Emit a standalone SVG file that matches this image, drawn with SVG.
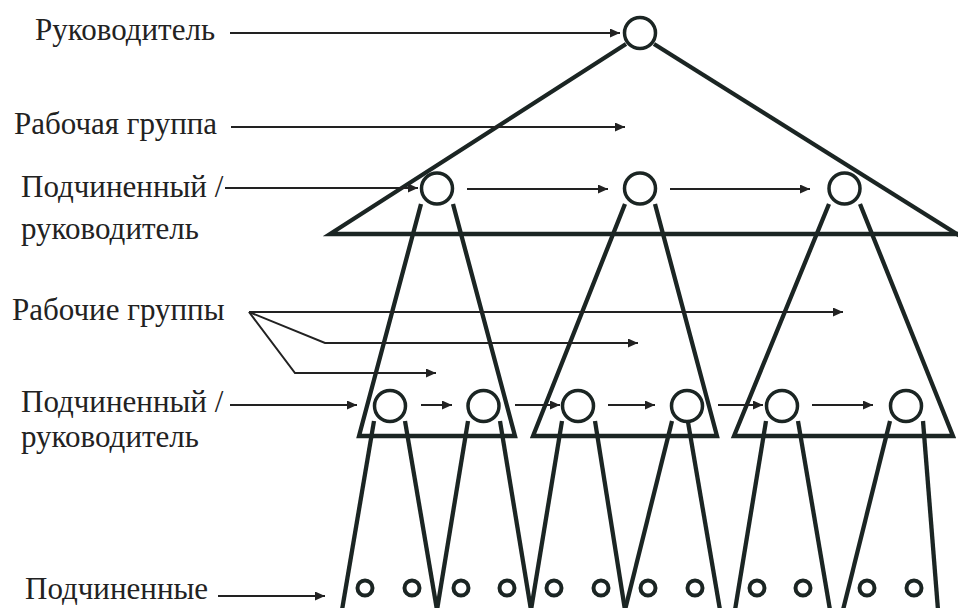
<svg xmlns="http://www.w3.org/2000/svg" width="958" height="608" viewBox="0 0 958 608">
<defs>
<style>
.thick{fill:none;stroke:#1b2523;stroke-width:4.3;stroke-linejoin:miter;stroke-linecap:butt;}
.node{fill:#fff;stroke:#1b2523;stroke-width:3.5;}
.small{fill:#fff;stroke:#1b2523;stroke-width:4;}
.arr{fill:none;stroke:#222;stroke-width:2;marker-end:url(#ah);}
</style>
<marker id="ah" markerUnits="userSpaceOnUse" markerWidth="11" markerHeight="9" refX="10" refY="4.5" orient="auto">
<path d="M0,0 L10,4.5 L0,9 z" fill="#222"/>
</marker>
</defs>
<rect width="958" height="608" fill="#fff"/>

<g id="labels" font-family="Liberation Serif" font-size="31" fill="#222">
<text x="35" y="40">Руководитель</text>
<text x="14" y="134">Рабочая группа</text>
<text x="21" y="197">Подчиненный /</text>
<text x="21" y="239">руководитель</text>
<text x="12" y="320">Рабочие группы</text>
<text x="21" y="412">Подчиненный /</text>
<text x="21" y="447">руководитель</text>
<text x="25" y="599">Подчиненные</text>
</g>

<g id="connectors">
<path class="thick" d="M626,44 L330,234 L960,234"/>
<path class="thick" d="M654,44 L960,236"/>
<path class="thick" d="M421,204 L359,436 L515,436 L453,204"/>
<path class="thick" d="M625,204 L533,436 L717,436 L655,204"/>
<path class="thick" d="M829,204 L734,436 L953,436 L860,204"/>
<path class="thick" d="M374,421 L342,610"/>
<path class="thick" d="M405,421 L437,610"/>
<path class="thick" d="M468,421 L437,610"/>
<path class="thick" d="M500,421 L531,610"/>
<path class="thick" d="M562,421 L531,610"/>
<path class="thick" d="M595,421 L625,610"/>
<path class="thick" d="M672,421 L625,610"/>
<path class="thick" d="M688,422 L720,610"/>
<path class="thick" d="M766,421 L735,610"/>
<path class="thick" d="M798,421 L830,610"/>
<path class="thick" d="M890,421 L843,610"/>
<path class="thick" d="M923,421 L938,610"/>
<path class="arr" d="M230,33 L620,33"/>
<path class="arr" d="M231,127 L625,127"/>
<path class="arr" d="M225,188 L418,188"/>
<path class="arr" d="M249,312 L843,312"/>
<path class="arr" d="M249,312 L325,343 L638,343"/>
<path class="arr" d="M249,312 L295,373 L436,373"/>
<path class="arr" d="M230,405 L357,405"/>
<path class="arr" d="M218,596 L325,596"/>
<path class="arr" d="M467,189 L608,189"/>
<path class="arr" d="M670,189 L810,189"/>
<path class="arr" d="M421,405 L452,405"/>
<path class="arr" d="M515,405 L560,405"/>
<path class="arr" d="M608,405 L655,405"/>
<path class="arr" d="M718,405 L763,405"/>
<path class="arr" d="M812,405 L873,405"/>
</g>

<g id="node-head"><circle class="node" cx="640" cy="33" r="15.5"/></g>
<g id="node-l2-1"><circle class="node" cx="437" cy="188.5" r="15.5"/></g>
<g id="node-l2-2"><circle class="node" cx="640" cy="188.5" r="15.5"/></g>
<g id="node-l2-3"><circle class="node" cx="844.5" cy="188.5" r="15.5"/></g>
<g id="node-l3-1"><circle class="node" cx="390" cy="406" r="15.5"/></g>
<g id="node-l3-2"><circle class="node" cx="483.5" cy="406" r="15.5"/></g>
<g id="node-l3-3"><circle class="node" cx="578" cy="406" r="15.5"/></g>
<g id="node-l3-4"><circle class="node" cx="687" cy="406" r="15.5"/></g>
<g id="node-l3-5"><circle class="node" cx="782" cy="406" r="15.5"/></g>
<g id="node-l3-6"><circle class="node" cx="906" cy="406" r="15.5"/></g>
<g id="node-sub-1"><circle class="small" cx="365" cy="588" r="7.5"/></g>
<g id="node-sub-2"><circle class="small" cx="412" cy="588" r="7.5"/></g>
<g id="node-sub-3"><circle class="small" cx="461" cy="588" r="7.5"/></g>
<g id="node-sub-4"><circle class="small" cx="507" cy="588" r="7.5"/></g>
<g id="node-sub-5"><circle class="small" cx="554" cy="588" r="7.5"/></g>
<g id="node-sub-6"><circle class="small" cx="601" cy="588" r="7.5"/></g>
<g id="node-sub-7"><circle class="small" cx="648" cy="588" r="7.5"/></g>
<g id="node-sub-8"><circle class="small" cx="695" cy="588" r="7.5"/></g>
<g id="node-sub-9"><circle class="small" cx="757" cy="588" r="7.5"/></g>
<g id="node-sub-10"><circle class="small" cx="803" cy="588" r="7.5"/></g>
<g id="node-sub-11"><circle class="small" cx="867" cy="588" r="7.5"/></g>
<g id="node-sub-12"><circle class="small" cx="914" cy="588" r="7.5"/></g>
</svg>
